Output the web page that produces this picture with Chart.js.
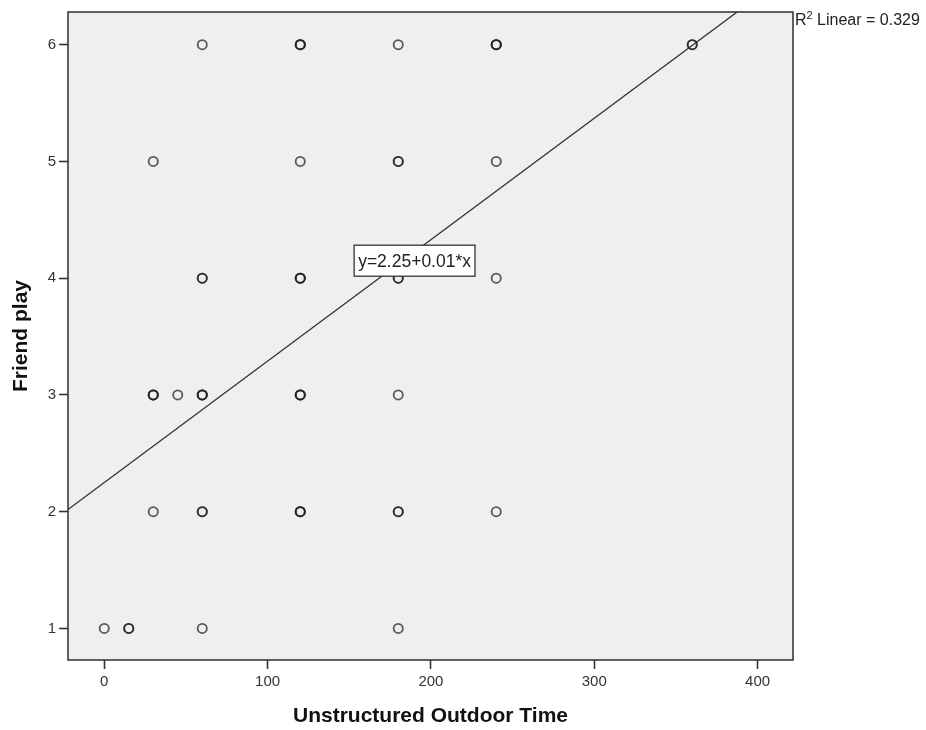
<!DOCTYPE html>
<html>
<head>
<meta charset="utf-8">
<script src="https://cdn.jsdelivr.net/npm/chart.js@4/dist/chart.umd.min.js"></script>
<style>
  html, body { margin: 0; padding: 0; background: #ffffff; }
  #wrap { width: 926px; height: 730px; position: relative; }
</style>
</head>
<body>
<div id="wrap"><canvas id="chart" width="926" height="730"></canvas></div>
<script>
// Observations: unstructured outdoor time (minutes) and friend play rating.
// Repeated pairs are separate respondents sharing the same answers.
const unstructuredTime = [
  60, 120, 120, 120, 180, 240, 240, 240, 360, 360,
  30, 120, 180, 180, 240,
  60, 60, 120, 120, 120, 180, 180, 240,
  30, 30, 30, 45, 60, 60, 60, 120, 120, 120, 180,
  30, 60, 60, 120, 120, 120, 180, 180, 240,
  0, 15, 15, 60, 180
];
const friendPlay = [
  6, 6, 6, 6, 6, 6, 6, 6, 6, 6,
  5, 5, 5, 5, 5,
  4, 4, 4, 4, 4, 4, 4, 4,
  3, 3, 3, 3, 3, 3, 3, 3, 3, 3, 3,
  2, 2, 2, 2, 2, 2, 2, 2, 2,
  1, 1, 1, 1, 1
];

const xTickValues = [0, 100, 200, 300, 400];
const yTickValues = [1, 2, 3, 4, 5, 6];
const xRange = [-22.2, 421.7];
const yRange = [0.73, 6.28];

// Linear fit
const fitIntercept = 2.25;
const fitSlope = 0.0104;
const rSquared = 0.329;

const points = unstructuredTime.map((x, i) => ({ x: x, y: friendPlay[i] }));
const fitLine = [
  { x: xRange[0], y: fitIntercept + fitSlope * xRange[0] },
  { x: xRange[1], y: fitIntercept + fitSlope * xRange[1] }
];
const equationText = 'y=' + fitIntercept.toFixed(2) + '+' + fitSlope.toFixed(2) + '*x';

const plotFrame = {
  id: 'plotFrame',
  beforeDatasetsDraw(chart) {
    const { ctx, chartArea: a } = chart;
    ctx.save();
    ctx.fillStyle = '#efefef';
    ctx.fillRect(a.left, a.top, a.right - a.left, a.bottom - a.top);
    ctx.restore();
  },
  afterDatasetsDraw(chart) {
    const { ctx, chartArea: a, scales } = chart;
    ctx.save();
    ctx.strokeStyle = '#3a3a3a';
    ctx.lineWidth = 1.6;
    ctx.strokeRect(a.left, a.top, a.right - a.left, a.bottom - a.top);

    // equation box on the fit line
    const cx = scales.x.getPixelForValue(190);
    const cy = scales.y.getPixelForValue(4.15);
    ctx.font = '17.5px "Liberation Sans", Arial, sans-serif';
    const w = ctx.measureText(equationText).width + 8;
    const h = 31;
    ctx.fillStyle = '#ffffff';
    ctx.fillRect(cx - w / 2, cy - h / 2, w, h);
    ctx.strokeStyle = '#333333';
    ctx.lineWidth = 1.3;
    ctx.strokeRect(cx - w / 2, cy - h / 2, w, h);
    ctx.fillStyle = '#222222';
    ctx.textAlign = 'center';
    ctx.textBaseline = 'middle';
    ctx.fillText(equationText, cx, cy + 1);

    // R-squared note beside the plot
    let tx = a.right + 2;
    const ty = 21;
    ctx.textAlign = 'left';
    ctx.textBaseline = 'middle';
    ctx.font = '16px "Liberation Sans", Arial, sans-serif';
    ctx.fillText('R', tx, ty);
    tx += ctx.measureText('R').width;
    ctx.font = '11px "Liberation Sans", Arial, sans-serif';
    ctx.fillText('2', tx, ty - 5);
    tx += ctx.measureText('2').width;
    ctx.font = '16px "Liberation Sans", Arial, sans-serif';
    ctx.fillText(' Linear = ' + rSquared.toFixed(3), tx, ty);
    ctx.restore();
  }
};

new Chart(document.getElementById('chart'), {
  type: 'scatter',
  data: {
    datasets: [
      {
        label: 'Fit',
        type: 'line',
        data: fitLine,
        borderColor: '#333333',
        borderWidth: 1.3,
        pointRadius: 0,
        fill: false,
        order: 2
      },
      {
        label: 'Friend play',
        data: points,
        pointStyle: 'circle',
        pointRadius: 4.6,
        pointBorderWidth: 1.8,
        pointBackgroundColor: 'rgba(0,0,0,0)',
        pointBorderColor: 'rgba(30,30,30,0.72)',
        order: 1
      }
    ]
  },
  plugins: [plotFrame],
  options: {
    responsive: false,
    animation: false,
    events: [],
    layout: { padding: { top: 9, right: 133, bottom: 0, left: 0 } },
    plugins: { legend: { display: false }, tooltip: { enabled: false } },
    scales: {
      x: {
        type: 'linear',
        min: xRange[0],
        max: xRange[1],
        afterBuildTicks(scale) { scale.ticks = xTickValues.map(v => ({ value: v })); },
        afterFit(scale) { scale.height = 70; },
        border: { display: false },
        grid: { drawOnChartArea: false, drawTicks: true, tickLength: 9, tickWidth: 1.6, color: '#333333' },
        ticks: {
          color: '#333333',
          padding: 4,
          maxRotation: 0,
          font: { family: '"Liberation Sans", Arial, sans-serif', size: 15 },
          callback: v => String(v)
        },
        title: {
          display: true,
          text: 'Unstructured Outdoor Time',
          color: '#111111',
          padding: { top: 0, bottom: 1 },
          font: { family: '"Liberation Sans", Arial, sans-serif', size: 21, weight: 'bold' }
        }
      },
      y: {
        type: 'linear',
        min: yRange[0],
        max: yRange[1],
        afterBuildTicks(scale) { scale.ticks = yTickValues.map(v => ({ value: v })); },
        afterFit(scale) { scale.width = 68; },
        border: { display: false },
        grid: { drawOnChartArea: false, drawTicks: true, tickLength: 9, tickWidth: 1.6, color: '#333333' },
        ticks: {
          color: '#333333',
          padding: 3,
          font: { family: '"Liberation Sans", Arial, sans-serif', size: 15 },
          callback: v => String(v)
        },
        title: {
          display: true,
          text: 'Friend play',
          color: '#111111',
          padding: { top: 9, bottom: 0 },
          font: { family: '"Liberation Sans", Arial, sans-serif', size: 21, weight: 'bold' }
        }
      }
    }
  }
});
</script>
</body>
</html>
